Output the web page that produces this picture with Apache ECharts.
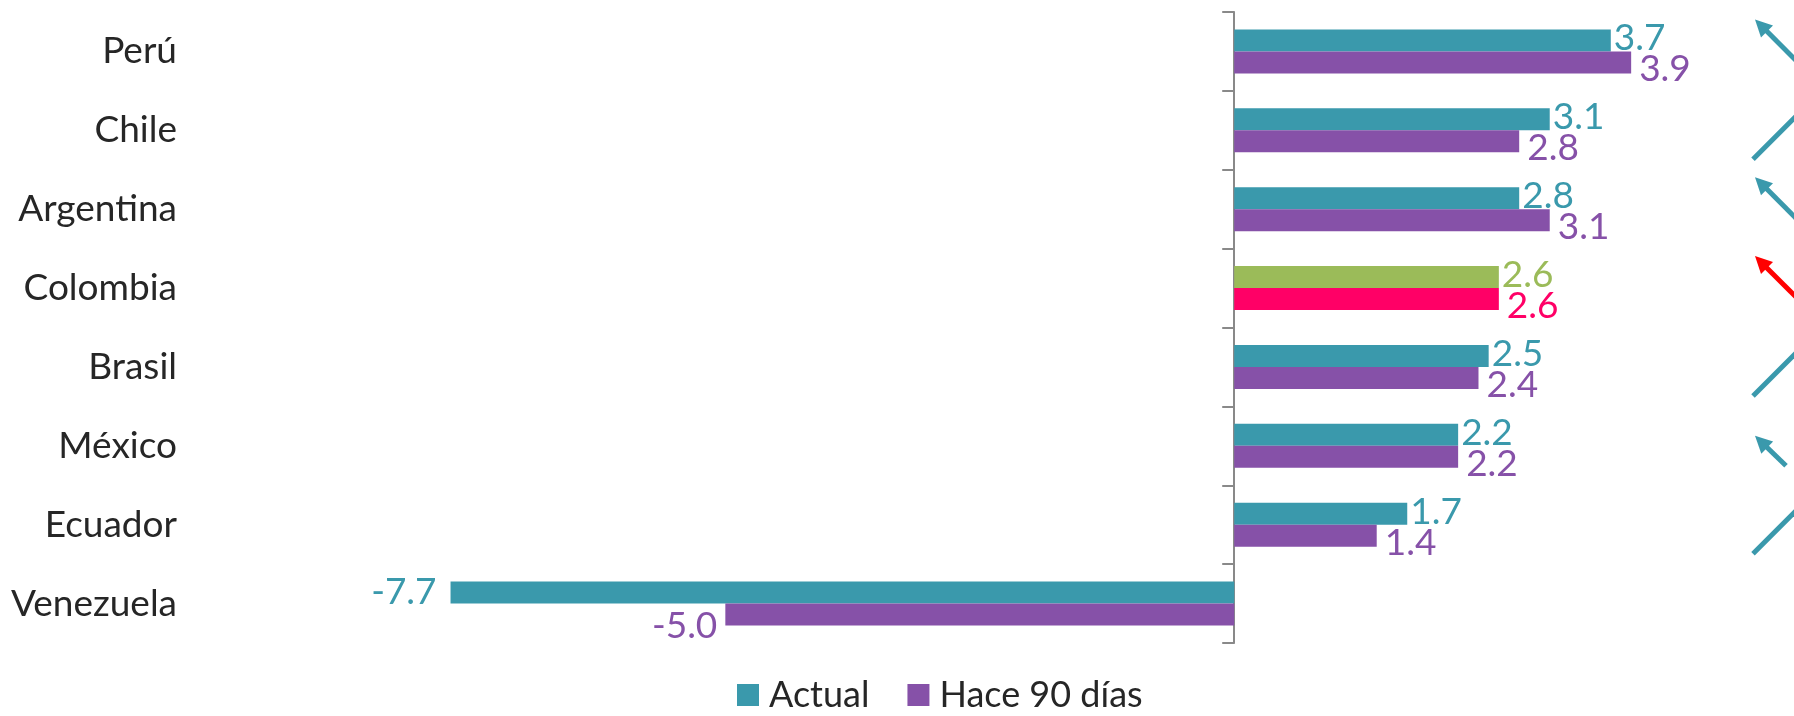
<!DOCTYPE html>
<html>
<head>
<meta charset="utf-8">
<script src="https://cdn.jsdelivr.net/npm/echarts@6/dist/echarts.min.js"></script>
<style>
  html, body { margin: 0; padding: 0; background: #ffffff; }
  #chart { width: 1794px; height: 716px; }
</style>
</head>
<body>
<div id="chart"></div>
<script>
// Crecimiento esperado por país: pronóstico actual vs. hace 90 días
const paises = ['Perú', 'Chile', 'Argentina', 'Colombia', 'Brasil', 'México', 'Ecuador', 'Venezuela'];
const actual = [3.7, 3.1, 2.8, 2.6, 2.5, 2.2, 1.7, -7.7];
const hace90 = [3.9, 2.8, 3.1, 2.6, 2.4, 2.2, 1.4, -5.0];
// Sentido del cambio del pronóstico (flecha a la derecha de cada país)
const tendencia = ['baja', 'sube', 'baja', 'baja', 'sube', 'baja leve', 'sube', ''];

const FONT = 'Lato';
const TEAL = '#3A99AC';
const PURPLE = '#8651A8';
const TEXT = '#262626';
const AXIS = '#898989';

// País destacado con colores propios
const destacado = { 'Colombia': { actual: '#9BBB59', hace90: '#FF0066', flecha: '#FF0000' } };

// Etiquetas de valores negativos (a la izquierda de la barra)
const etiquetaNegativa = {
  actual: { distance: 14, offset: [0, -1] },
  hace90: { distance: 8, offset: [0, 11] }
};

function barData(values, key, baseColor) {
  return values.map((v, i) => {
    const hl = destacado[paises[i]];
    const color = hl ? hl[key] : baseColor;
    const label = { color: color, position: v < 0 ? 'left' : 'right' };
    if (v < 0) Object.assign(label, etiquetaNegativa[key]);
    return { value: v, itemStyle: { color: color }, label: label };
  });
}

function arrowShape(tail, tip, color) {
  const dx = tip[0] - tail[0], dy = tip[1] - tail[1];
  const len = Math.sqrt(dx * dx + dy * dy);
  const ux = dx / len, uy = dy / len;
  const nx = -uy, ny = ux;
  const h = 17, w = 8.5;
  const bx = tip[0] - ux * h, by = tip[1] - uy * h;
  return [
    { type: 'line', shape: { x1: tail[0], y1: tail[1], x2: bx + ux * 3, y2: by + uy * 3 },
      style: { stroke: color, lineWidth: 5 } },
    { type: 'polygon', shape: { points: [tip, [bx + nx * w, by + ny * w], [bx - nx * w, by - ny * w]] },
      style: { fill: color } }
  ];
}

function renderArrow(params, api) {
  const dir = tendencia[params.dataIndex];
  if (!dir) return null;
  const p = api.coord([0, api.value(1)]);
  const hl = destacado[paises[params.dataIndex]];
  const color = hl ? hl.flecha : TEAL;
  let tail, tip;
  if (dir === 'sube') {
    tail = [p[0] - 1, p[1] + 29];
    tip = [p[0] + 59, p[1] - 31];
  } else if (dir === 'baja leve') {
    tip = [p[0] + 1, p[1] - 10];
    tail = [p[0] + 32, p[1] + 20];
  } else {
    tip = [p[0] + 1, p[1] - 32];
    tail = [p[0] + 61, p[1] + 28];
  }
  return { type: 'group', children: arrowShape(tail, tip, color) };
}

const chart = echarts.init(document.getElementById('chart'), null, { renderer: 'canvas' });

const labelFont = { fontFamily: FONT, fontSize: 37 };

chart.setOption({
  animation: false,
  backgroundColor: '#ffffff',
  grid: [
    { left: 420, right: 0, top: 12, height: 631, outerBoundsMode: 'none', containLabel: false },
    { left: 1754, right: 0, top: 12, height: 631, outerBoundsMode: 'none', containLabel: false }
  ],
  legend: {
    data: ['Actual', 'Hace 90 días'],
    left: 737,
    top: 677,
    padding: 0,
    icon: 'rect',
    itemWidth: 22,
    itemHeight: 22,
    itemGap: 38,
    textStyle: { fontFamily: FONT, fontSize: 36, color: TEXT, padding: [0, 0, 0, 5] }
  },
  xAxis: [
    { type: 'value', gridIndex: 0, min: -8, max: 5.5, show: false },
    { type: 'value', gridIndex: 1, min: 0, max: 1, show: false }
  ],
  yAxis: [
    {
      type: 'category', gridIndex: 0, data: paises, inverse: true, position: 'left',
      axisLine: { show: false, onZero: false },
      axisTick: { show: false },
      axisLabel: { margin: 243, color: TEXT, fontFamily: FONT, fontSize: 37 },
      splitLine: { show: false }
    },
    {
      type: 'category', gridIndex: 0, data: paises, inverse: true, position: 'left',
      axisLine: { show: true, onZero: true, lineStyle: { color: AXIS, width: 2 } },
      axisTick: { show: true, length: 12, lineStyle: { color: AXIS, width: 2 } },
      axisLabel: { show: false },
      splitLine: { show: false }
    },
    {
      type: 'category', gridIndex: 1, data: paises, inverse: true, show: false
    }
  ],
  series: [
    {
      name: 'Actual', type: 'bar', xAxisIndex: 0, yAxisIndex: 0,
      barWidth: 22, barGap: '0%',
      itemStyle: { color: TEAL },
      label: {
        show: true, distance: 3, offset: [0, -2], ...labelFont,
        formatter: p => p.value.toFixed(1)
      },
      data: barData(actual, 'actual', TEAL)
    },
    {
      name: 'Hace 90 días', type: 'bar', xAxisIndex: 0, yAxisIndex: 0,
      barWidth: 22, barGap: '0%',
      itemStyle: { color: PURPLE },
      label: {
        show: true, distance: 8, offset: [0, 7], ...labelFont,
        formatter: p => p.value.toFixed(1)
      },
      data: barData(hace90, 'hace90', PURPLE)
    },
    {
      name: 'Tendencia', type: 'custom', xAxisIndex: 1, yAxisIndex: 2,
      renderItem: renderArrow,
      encode: { x: 0, y: 1 },
      data: tendencia.map((t, i) => [0, i]),
      silent: true
    }
  ]
});
</script>
</body>
</html>
